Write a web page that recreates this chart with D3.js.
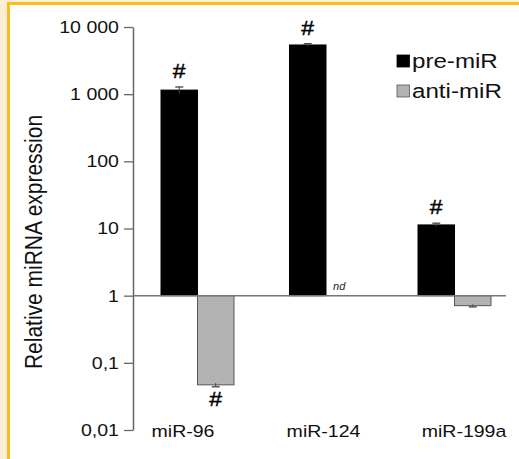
<!DOCTYPE html>
<html>
<head>
<meta charset="utf-8">
<script src="https://cdn.jsdelivr.net/npm/d3@7"></script>
<style>
	body { margin: 0; background: #fcefd5; }
	svg { display: block; font-family: "Liberation Sans", Arial, Helvetica, sans-serif; }
</style>
</head>
<body>
<svg id="chart" width="519" height="459"></svg>
<script>
// data
var categories = ["miR-96", "miR-124", "miR-199a"];
var series = ["pre-miR", "anti-miR"];
var preValues = [1150, 5400, 11.3];
var preErrors = [130, 250, 0.7];
var antiValues = [0.047, null, 0.71];
var antiErrors = [0.003, null, 0.03];
var preSignif = [true, true, true];
var antiSignif = [true, false, false];
var tickValues = [0.01, 0.1, 1, 10, 100, 1000, 10000];
var tickLabels = ["0,01", "0,1", "1", "10", "100", "1 000", "10 000"];

var svg = d3.select("#chart");
var stretch = 1.15; // the figure text is a little wide
var seriesColors = { "pre-miR": "#000000", "anti-miR": "#b3b3b3" };
var seriesStroke = { "pre-miR": "#000000", "anti-miR": "#555555" };

// frame
svg.append("rect")
	.attr("x", 8.5).attr("y", 3.5)
	.attr("width", 600).attr("height", 600)
	.style("fill", "white")
	.style("stroke", "#f5be1c")
	.style("stroke-width", 3);

var y = d3.scaleLog().domain([0.01, 10000]).range([430, 27]);
var x0 = d3.scaleBand().domain(categories).range([161, 491]).paddingInner(0.432).paddingOuter(0);
var x1 = d3.scaleBand().domain(series).range([0, x0.bandwidth()]);
var xLabel = d3.scalePoint().domain(categories).range([183, 464]);

var rows = categories.map(function(c, i) {
	return [
		{ cat: c, key: "pre-miR", value: preValues[i], err: preErrors[i], sig: preSignif[i] },
		{ cat: c, key: "anti-miR", value: antiValues[i], err: antiErrors[i], sig: antiSignif[i] }
	];
});
var bars = [].concat.apply([], rows);

// y axis
var yAxis = d3.axisLeft(y)
	.tickValues(tickValues)
	.tickFormat(function(d, i) { return tickLabels[i]; })
	.tickSize(9)
	.tickSizeOuter(0)
	.tickPadding(3.2);

var axisG = svg.append("g")
	.attr("transform", "translate(133,0)")
	.call(yAxis);
axisG.select(".domain").style("stroke", "#666").style("stroke-width", 1.5);
axisG.selectAll(".tick line").style("stroke", "#666").style("stroke-width", 1.3);
axisG.selectAll(".tick text")
	.attr("transform", "scale(" + stretch + ",1)")
	.style("font-size", "17px")
	.style("fill", "#111");

// bars
svg.selectAll(".bar")
	.data(bars.filter(function(d) { return d.value != null; }))
	.enter()
	.append("rect")
	.attr("class", "bar")
	.attr("x", function(d) { return x0(d.cat) + x1(d.key); })
	.attr("width", x1.bandwidth())
	.attr("y", function(d) { return Math.min(y(1), y(d.value)); })
	.attr("height", function(d) { return Math.abs(y(1) - y(d.value)); })
	.style("fill", function(d) { return seriesColors[d.key]; })
	.style("stroke", function(d) { return seriesStroke[d.key]; })
	.style("stroke-width", 1);

// baseline at 1
svg.append("line")
	.attr("x1", 133).attr("x2", 506)
	.attr("y1", y(1)).attr("y2", y(1))
	.style("stroke", "#777")
	.style("stroke-width", 1.5);

// error bars
var errG = svg.selectAll(".err")
	.data(bars.filter(function(d) { return d.value != null; }))
	.enter()
	.append("g")
	.attr("class", "err")
	.attr("transform", function(d) { return "translate(" + (x0(d.cat) + x1(d.key) + x1.bandwidth() / 2) + ",0)"; });

errG.append("line")
	.attr("y1", function(d) { return y(d.value - d.err); })
	.attr("y2", function(d) { return y(d.value + d.err); })
	.style("stroke", "#444")
	.style("stroke-width", 1);
errG.append("line")
	.attr("x1", -4).attr("x2", 4)
	.attr("y1", function(d) { return d.value >= 1 ? y(d.value + d.err) : y(d.value - d.err); })
	.attr("y2", function(d) { return d.value >= 1 ? y(d.value + d.err) : y(d.value - d.err); })
	.style("stroke", "#444")
	.style("stroke-width", 1.3);

// significance marks
svg.selectAll(".sig")
	.data(bars.filter(function(d) { return d.sig; }))
	.enter()
	.append("text")
	.attr("class", "sig")
	.attr("transform", function(d) {
		var cx = x0(d.cat) + x1(d.key) + x1.bandwidth() / 2;
		var cy = d.value >= 1 ? y(d.value + d.err) - 9 : y(d.value) + 21;
		return "translate(" + cx + "," + cy + ") scale(" + stretch + ",1)";
	})
	.style("text-anchor", "middle")
	.style("font-size", "20px")
	.style("stroke", "#000")
	.style("stroke-width", 0.4)
	.text("#");

// not detected
svg.selectAll(".nd")
	.data(bars.filter(function(d) { return d.value == null; }))
	.enter()
	.append("text")
	.attr("class", "nd")
	.attr("x", function(d) { return x0(d.cat) + x1(d.key) + x1.bandwidth() / 2 - 5; })
	.attr("y", y(1) - 6)
	.style("text-anchor", "middle")
	.style("font-size", "11px")
	.style("font-style", "italic")
	.style("fill", "#222")
	.text("nd");

// category labels
svg.selectAll(".cat")
	.data(categories)
	.enter()
	.append("text")
	.attr("class", "cat")
	.attr("transform", function(d) { return "translate(" + xLabel(d) + ",437) scale(" + stretch + ",1)"; })
	.style("text-anchor", "middle")
	.style("font-size", "17px")
	.style("fill", "#111")
	.text(function(d) { return d; });

// y title
svg.append("text")
	.attr("transform", "translate(42,242) scale(" + stretch + ",1) rotate(-90)")
	.style("text-anchor", "middle")
	.style("font-size", "21px")
	.style("fill", "#111")
	.text("Relative miRNA expression");

// legend
var legend = svg.selectAll(".legend")
	.data(series)
	.enter()
	.append("g")
	.attr("class", "legend")
	.attr("transform", function(d, i) { return "translate(397," + (55 + i * 30) + ")"; });

legend.append("rect")
	.attr("width", 12.5)
	.attr("height", 12)
	.style("fill", function(d) { return seriesColors[d]; })
	.style("stroke", function(d) { return seriesStroke[d]; })
	.style("stroke-width", 0.8);

legend.append("text")
	.attr("transform", "translate(15,13) scale(" + stretch + ",1)")
	.style("font-size", "21px")
	.style("fill", "#111")
	.text(function(d) { return d; });
</script>
</body>
</html>
